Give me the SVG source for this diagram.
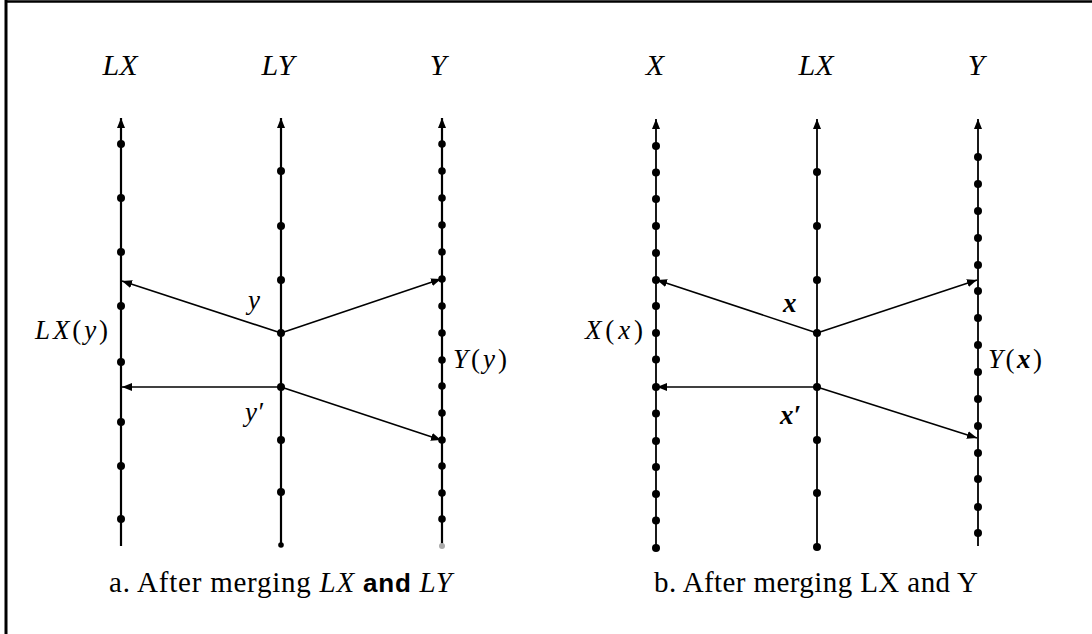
<svg xmlns="http://www.w3.org/2000/svg" width="1092" height="634" viewBox="0 0 1092 634">
<style>
.bg{fill:#fff}
.frame{stroke:#000;fill:none}
.dot{fill:#000}
.arr{stroke:#000;stroke-width:1.6;fill:none;marker-end:url(#ah)}
.vt{stroke:#000;stroke-width:2.2;fill:none;marker-end:url(#ah)}
.title{font-family:"Liberation Serif","DejaVu Serif",serif;font-style:italic;font-size:30px;fill:#000;text-anchor:middle}
.lab{font-family:"Liberation Serif","DejaVu Serif",serif;font-style:italic;font-size:27px;fill:#000}
.rom{font-style:normal}
.bx{font-weight:bold}
.cap{font-family:"Liberation Serif","DejaVu Serif",serif;font-size:29px;fill:#000}
.it{font-style:italic}
.sb{font-family:"Liberation Sans",Arial,sans-serif;font-weight:bold;font-size:26px}
</style>
<defs>
<marker id="ah" markerUnits="userSpaceOnUse" markerWidth="12" markerHeight="10" refX="10" refY="4" orient="auto">
<path d="M0,0 L10,4 L0,8 Z" fill="#000"/>
</marker>
</defs>
<rect class="bg" x="0" y="0" width="1092" height="634"/>
<line class="frame" x1="5" y1="1.5" x2="1092" y2="1.5" stroke-width="2.5"/>
<line class="frame" x1="6" y1="0" x2="6" y2="634" stroke-width="3"/>

<!-- Left panel -->
<g id="a-LX">
<text class="title" x="120" y="75">LX</text>
<line class="vt" x1="121" y1="546" x2="121" y2="118"/>
<g class="dot">
<circle cx="121" cy="144" r="4"/><circle cx="121" cy="198" r="4"/><circle cx="121" cy="252" r="4"/><circle cx="121" cy="306" r="4"/><circle cx="121" cy="362" r="4"/><circle cx="121" cy="422" r="4"/><circle cx="121" cy="466" r="4"/><circle cx="121" cy="519" r="4"/>
</g>
</g>
<g id="a-LY">
<text class="title" x="278" y="75">LY</text>
<line class="vt" x1="281" y1="545" x2="281" y2="118"/>
<g class="dot">
<circle cx="281" cy="171" r="4"/><circle cx="281" cy="226" r="4"/><circle cx="281" cy="280" r="4"/><circle cx="281" cy="333" r="4"/><circle cx="281" cy="387" r="4"/><circle cx="281" cy="440" r="4"/><circle cx="281" cy="492" r="4"/><circle cx="281" cy="545" r="2.8"/>
</g>
</g>
<g id="a-Y">
<text class="title" x="438" y="75">Y</text>
<line class="vt" x1="442" y1="546" x2="442" y2="118"/>
<g class="dot">
<circle cx="442" cy="144" r="3.8"/><circle cx="442" cy="171" r="3.8"/><circle cx="442" cy="198" r="3.8"/><circle cx="442" cy="225" r="3.8"/><circle cx="442" cy="252" r="3.8"/><circle cx="442" cy="279" r="3.8"/><circle cx="442" cy="306" r="3.8"/><circle cx="442" cy="333" r="3.8"/><circle cx="442" cy="360" r="3.8"/><circle cx="442" cy="386" r="3.8"/><circle cx="442" cy="413" r="3.8"/><circle cx="442" cy="440" r="3.8"/><circle cx="442" cy="466" r="3.8"/><circle cx="442" cy="493" r="3.8"/><circle cx="442" cy="519" r="3.8"/>
</g>
<circle cx="442" cy="546" r="3" fill="#aaa"/>
</g>

<!-- Right panel -->
<g id="b-X">
<text class="title" x="655" y="75">X</text>
<line class="vt" x1="656" y1="548" x2="656" y2="119" style="stroke-width:1.8"/>
<g class="dot">
<circle cx="656" cy="146" r="4"/><circle cx="656" cy="172.5" r="4"/><circle cx="656" cy="199" r="4"/><circle cx="656" cy="226" r="4"/><circle cx="656" cy="253" r="4"/><circle cx="656" cy="280" r="4"/><circle cx="656" cy="306" r="4"/><circle cx="656" cy="333" r="4"/><circle cx="656" cy="359.5" r="4"/><circle cx="656" cy="387" r="4"/><circle cx="656" cy="413.5" r="4"/><circle cx="656" cy="441" r="4"/><circle cx="656" cy="467" r="4"/><circle cx="656" cy="494" r="4"/><circle cx="656" cy="520.5" r="4"/><circle cx="656" cy="548" r="4"/>
</g>
</g>
<g id="b-LX">
<text class="title" x="816" y="75">LX</text>
<line class="vt" x1="817" y1="547" x2="817" y2="119" style="stroke-width:1.8"/>
<g class="dot">
<circle cx="817" cy="172" r="4"/><circle cx="817" cy="226" r="4"/><circle cx="817" cy="280" r="4"/><circle cx="817" cy="333" r="4"/><circle cx="817" cy="387" r="4"/><circle cx="817" cy="440" r="4"/><circle cx="817" cy="493" r="4"/><circle cx="817" cy="547" r="4"/>
</g>
</g>
<g id="b-Y">
<text class="title" x="976" y="75">Y</text>
<line class="vt" x1="978" y1="546" x2="978" y2="119" style="stroke-width:1.8"/>
<g class="dot">
<circle cx="978" cy="157" r="4"/><circle cx="978" cy="184" r="4"/><circle cx="978" cy="211" r="4"/><circle cx="978" cy="238" r="4"/><circle cx="978" cy="265" r="4"/><circle cx="978" cy="291" r="4"/><circle cx="978" cy="318" r="4"/><circle cx="978" cy="345" r="4"/><circle cx="978" cy="372" r="4"/><circle cx="978" cy="399" r="4"/><circle cx="978" cy="426" r="4"/><circle cx="978" cy="453" r="4"/><circle cx="978" cy="479" r="4"/><circle cx="978" cy="507" r="4"/><circle cx="978" cy="533" r="4"/>
</g>
</g>

<g id="connectors">
<line class="arr" x1="281" y1="333" x2="122" y2="281"/>
<line class="arr" x1="281" y1="333" x2="441" y2="279"/>
<line class="arr" x1="281" y1="387" x2="122" y2="387"/>
<line class="arr" x1="281" y1="387" x2="441" y2="440"/>
<line class="arr" x1="817" y1="333" x2="657" y2="280"/>
<line class="arr" x1="817" y1="333" x2="977" y2="280"/>
<line class="arr" x1="817" y1="387" x2="657" y2="387"/>
<line class="arr" x1="817" y1="387" x2="977" y2="438"/>
</g>

<g id="labels">
<text class="lab" x="248" y="309">y</text>
<text class="lab" x="245" y="421">y′</text>
<text class="lab" x="35" y="339" textLength="73" lengthAdjust="spacing">LX<tspan class="rom">(</tspan>y<tspan class="rom">)</tspan></text>
<text class="lab" x="453" y="368" textLength="54" lengthAdjust="spacing">Y<tspan class="rom">(</tspan>y<tspan class="rom">)</tspan></text>
<text class="lab bx" x="783" y="312">x</text>
<text class="lab bx" x="780" y="424">x′</text>
<text class="lab" x="585" y="339" textLength="58" lengthAdjust="spacing">X<tspan class="rom">(</tspan>x<tspan class="rom">)</tspan></text>
<text class="lab" x="988" y="368" textLength="54" lengthAdjust="spacing">Y<tspan class="rom">(</tspan><tspan class="bx">x</tspan><tspan class="rom">)</tspan></text>
</g>

<g id="captions">
<text class="cap" x="109" y="592" textLength="343" lengthAdjust="spacing">a. After merging <tspan class="it">LX</tspan><tspan class="sb"> and </tspan><tspan class="it">LY</tspan></text>
<text class="cap" x="654" y="592" textLength="324" lengthAdjust="spacing">b. After merging LX and Y</text>
</g>
</svg>
